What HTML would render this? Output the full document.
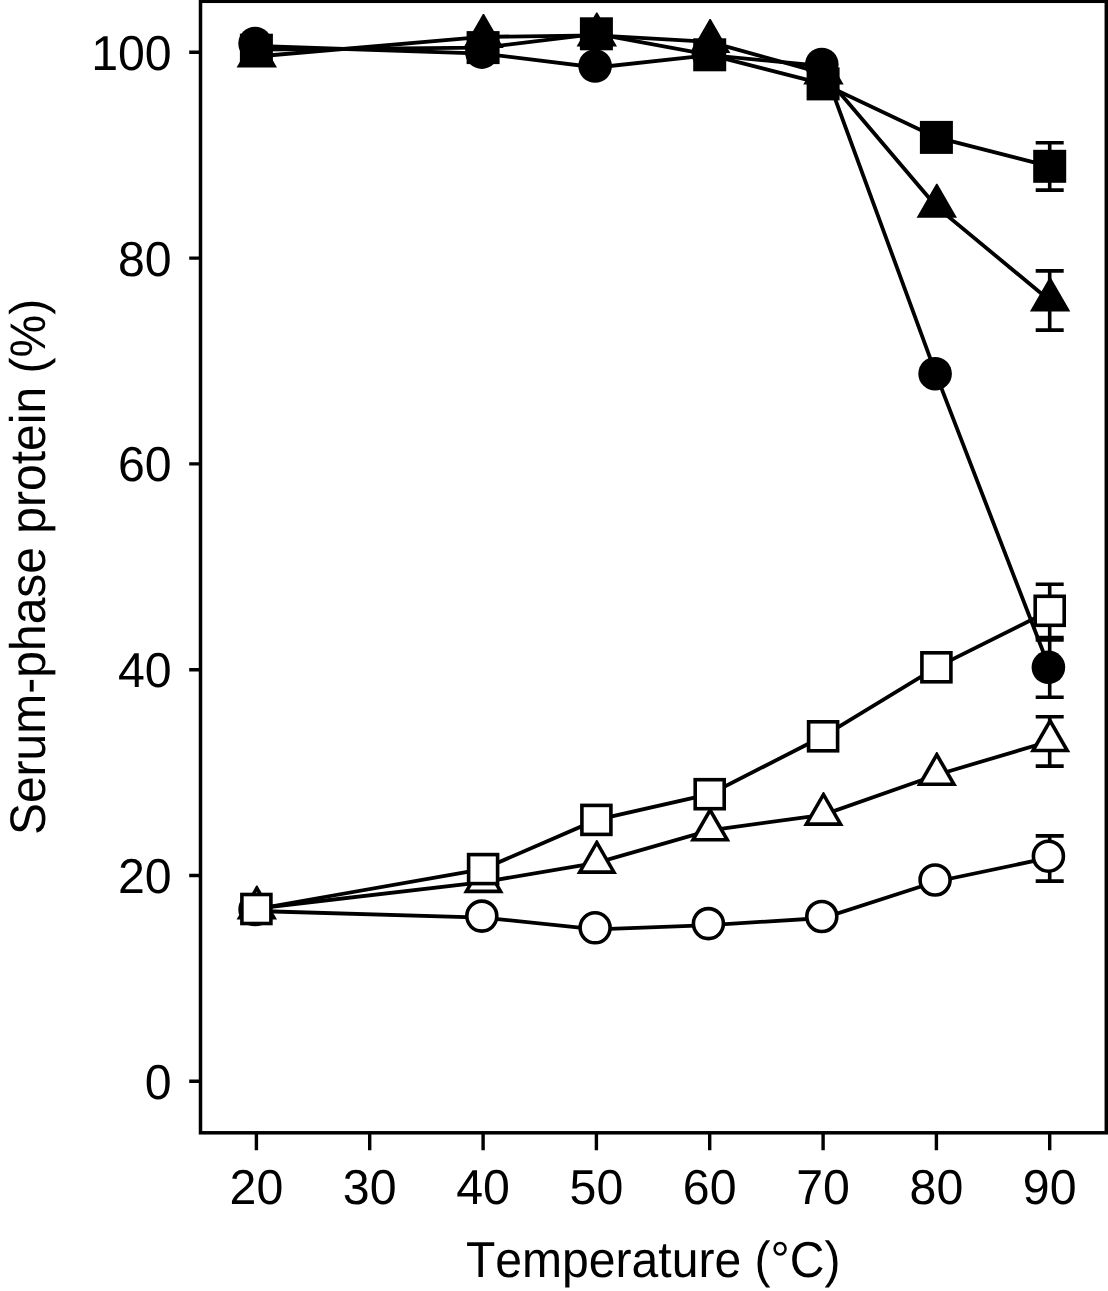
<!DOCTYPE html>
<html lang="en"><head><meta charset="utf-8"><title>Serum-phase protein vs temperature</title>
<style>html,body{margin:0;padding:0;background:#fff}body{width:1108px;height:1291px;overflow:hidden}</style></head>
<body>
<svg width="1108" height="1291" viewBox="0 0 1108 1291" style="display:block">
<rect width="1108" height="1291" fill="#fff"/>
<g fill="#000">
<polyline fill="none" stroke="#000" stroke-width="3.8" points="256.4,46.0 483.1,53.6 596.4,67.5 709.7,55.1 823.1,66.0 936.4,375.2 1049.7,668.8"/>
<path fill="none" stroke="#000" stroke-width="3.6" d="M1049.7 640.0V697.3M1035.7 640.0H1063.7M1035.7 697.3H1063.7"/>
<circle cx="255.1" cy="43.5" r="16.8"/><circle cx="481.8" cy="52.1" r="16.8"/><circle cx="595.1" cy="66.0" r="16.8"/><circle cx="708.4" cy="53.6" r="16.8"/><circle cx="821.8" cy="64.5" r="16.8"/><circle cx="935.1" cy="373.7" r="16.8"/><circle cx="1048.4" cy="667.3" r="16.8"/>
<polyline fill="none" stroke="#000" stroke-width="3.8" points="256.4,56.5 483.1,36.9 596.4,35.3 709.7,41.9 823.1,73.3 936.4,206.6 1049.7,300.5"/>
<path fill="none" stroke="#000" stroke-width="3.6" d="M1049.7 270.9V330.1M1035.7 270.9H1063.7M1035.7 330.1H1063.7"/>
<path d="M256.22 33.60H257.38L277.00 67.60H236.60Z"/><path d="M482.89 14.00H484.04L503.67 48.00H463.27Z"/><path d="M596.22 12.40H597.38L617.00 46.40H576.60Z"/><path d="M709.55 19.00H710.71L730.33 53.00H689.93Z"/><path d="M822.89 50.40H824.04L843.66 84.40H803.26Z"/><path d="M936.22 183.70H937.38L957.00 217.70H916.60Z"/><path d="M1049.55 277.60H1050.71L1070.33 311.60H1029.93Z"/>
<polyline fill="none" stroke="#000" stroke-width="3.8" points="256.4,49.6 483.1,47.6 596.4,33.8 709.7,54.8 823.1,83.9 936.4,137.4 1049.7,166.3"/>
<path fill="none" stroke="#000" stroke-width="3.6" d="M1049.7 142.8V190.1M1035.7 142.8H1063.7M1035.7 190.1H1063.7"/>
<rect x="239.9" y="33.7" width="33" height="33"/><rect x="466.6" y="31.1" width="33" height="33"/><rect x="579.9" y="17.3" width="33" height="33"/><rect x="693.2" y="38.3" width="33" height="33"/><rect x="806.6" y="67.4" width="33" height="33"/><rect x="919.9" y="120.9" width="33" height="33"/><rect x="1033.2" y="149.8" width="33" height="33"/>
<polyline fill="none" stroke="#000" stroke-width="3.8" points="256.4,911.0 483.1,917.6 596.4,929.3 709.7,925.1 823.1,918.0 936.4,881.5 1049.7,857.7"/>
<path fill="none" stroke="#000" stroke-width="3.6" d="M1049.7 835.9V881.1M1035.7 835.9H1063.7M1035.7 881.1H1063.7"/>
<circle cx="255.1" cy="909.5" r="15" fill="#fff" stroke="#000" stroke-width="3.6"/><circle cx="481.8" cy="916.1" r="15" fill="#fff" stroke="#000" stroke-width="3.6"/><circle cx="595.1" cy="927.8" r="15" fill="#fff" stroke="#000" stroke-width="3.6"/><circle cx="708.4" cy="923.6" r="15" fill="#fff" stroke="#000" stroke-width="3.6"/><circle cx="821.8" cy="916.5" r="15" fill="#fff" stroke="#000" stroke-width="3.6"/><circle cx="935.1" cy="880.0" r="15" fill="#fff" stroke="#000" stroke-width="3.6"/><circle cx="1048.4" cy="856.2" r="15" fill="#fff" stroke="#000" stroke-width="3.6"/>
<polyline fill="none" stroke="#000" stroke-width="3.8" points="256.4,908.5 483.1,882.1 596.4,862.8 709.7,830.4 823.1,814.8 936.4,775.0 1049.7,741.2"/>
<path fill="none" stroke="#000" stroke-width="3.6" d="M1049.7 716.8V766.1M1035.7 716.8H1063.7M1035.7 766.1H1063.7"/>
<path d="M256.22 885.60H257.38L277.00 919.60H236.60Z"/><path fill="#fff" d="M256.80 891.80L270.77 916.00H242.83Z"/><path d="M482.89 859.20H484.04L503.67 893.20H463.27Z"/><path fill="#fff" d="M483.47 865.40L497.44 889.60H469.49Z"/><path d="M596.22 839.90H597.38L617.00 873.90H576.60Z"/><path fill="#fff" d="M596.80 846.10L610.77 870.30H582.83Z"/><path d="M709.55 807.50H710.71L730.33 841.50H689.93Z"/><path fill="#fff" d="M710.13 813.70L724.10 837.90H696.16Z"/><path d="M822.89 791.90H824.04L843.66 825.90H803.26Z"/><path fill="#fff" d="M823.46 798.10L837.44 822.30H809.49Z"/><path d="M936.22 752.10H937.38L957.00 786.10H916.60Z"/><path fill="#fff" d="M936.80 758.30L950.77 782.50H922.83Z"/><path d="M1049.55 718.30H1050.71L1070.33 752.30H1029.93Z"/><path fill="#fff" d="M1050.13 724.50L1064.10 748.70H1036.16Z"/>
<polyline fill="none" stroke="#000" stroke-width="3.8" points="256.4,909.0 483.1,869.1 596.4,819.9 709.7,794.2 823.1,736.3 936.4,667.3 1049.7,610.8"/>
<path fill="none" stroke="#000" stroke-width="3.6" d="M1049.7 584.3V637.5M1035.7 584.3H1063.7M1035.7 637.5H1063.7"/>
<rect x="241.9" y="894.5" width="29" height="29" fill="#fff" stroke="#000" stroke-width="3.6"/><rect x="468.6" y="854.6" width="29" height="29" fill="#fff" stroke="#000" stroke-width="3.6"/><rect x="581.9" y="805.4" width="29" height="29" fill="#fff" stroke="#000" stroke-width="3.6"/><rect x="695.2" y="779.7" width="29" height="29" fill="#fff" stroke="#000" stroke-width="3.6"/><rect x="808.6" y="721.8" width="29" height="29" fill="#fff" stroke="#000" stroke-width="3.6"/><rect x="921.9" y="652.8" width="29" height="29" fill="#fff" stroke="#000" stroke-width="3.6"/><rect x="1035.2" y="596.3" width="29" height="29" fill="#fff" stroke="#000" stroke-width="3.6"/>
</g>
<rect x="200.5" y="1.3" width="905.8" height="1131.5" fill="none" stroke="#000" stroke-width="3.5"/>
<path d="M189.2 1081.3H200.5M189.2 875.5H200.5M189.2 669.7H200.5M189.2 463.9H200.5M189.2 258.1H200.5M189.2 52.3H200.5M256.4 1132.8V1150.2M369.7 1132.8V1150.2M483.1 1132.8V1150.2M596.4 1132.8V1150.2M709.7 1132.8V1150.2M823.1 1132.8V1150.2M936.4 1132.8V1150.2M1049.7 1132.8V1150.2" fill="none" stroke="#000" stroke-width="3.4"/>
<g font-family="'Liberation Sans', Arial, Helvetica, sans-serif" font-size="49" fill="#000" style="font-kerning:none;text-rendering:geometricPrecision">
<text transform="translate(171.7 1098.8) scale(0.985 1)" text-anchor="end">0</text>
<text transform="translate(171.7 893.0) scale(0.985 1)" text-anchor="end">20</text>
<text transform="translate(171.7 687.2) scale(0.985 1)" text-anchor="end">40</text>
<text transform="translate(171.7 481.4) scale(0.985 1)" text-anchor="end">60</text>
<text transform="translate(171.7 275.6) scale(0.985 1)" text-anchor="end">80</text>
<text transform="translate(171.7 69.8) scale(0.985 1)" text-anchor="end">100</text>
<text transform="translate(256.4 1203.8) scale(0.985 1)" text-anchor="middle">20</text>
<text transform="translate(369.7 1203.8) scale(0.985 1)" text-anchor="middle">30</text>
<text transform="translate(483.1 1203.8) scale(0.985 1)" text-anchor="middle">40</text>
<text transform="translate(596.4 1203.8) scale(0.985 1)" text-anchor="middle">50</text>
<text transform="translate(709.7 1203.8) scale(0.985 1)" text-anchor="middle">60</text>
<text transform="translate(823.1 1203.8) scale(0.985 1)" text-anchor="middle">70</text>
<text transform="translate(936.4 1203.8) scale(0.985 1)" text-anchor="middle">80</text>
<text transform="translate(1049.7 1203.8) scale(0.985 1)" text-anchor="middle">90</text>
<text transform="translate(653.2 1277.3) scale(0.9505 1)" font-size="50.6" text-anchor="middle">Temperature (°C)</text>
<text transform="translate(45.3 567) rotate(-90) scale(0.96 1)" font-size="50" text-anchor="middle">Serum-phase protein (%)</text>
</g>
</svg>
</body></html>
